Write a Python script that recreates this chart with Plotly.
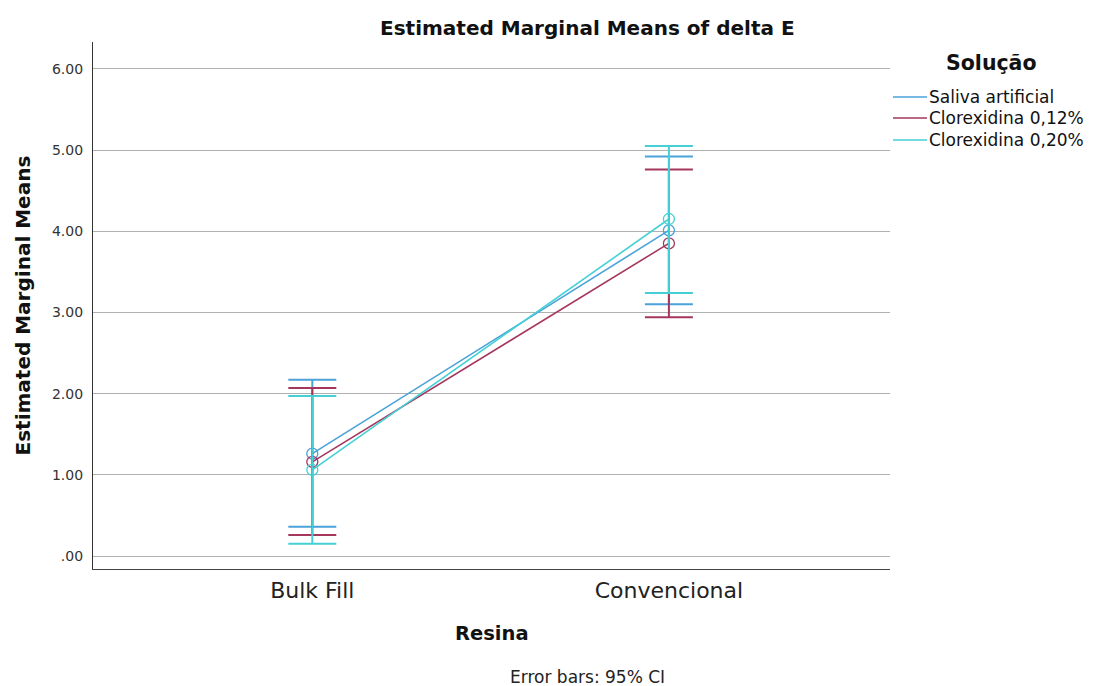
import plotly.graph_objects as go

# Estimated marginal means of delta E by resin type and solution, with 95% CI
resina = ["Bulk Fill", "Convencional"]
solucoes = ["Saliva artificial", "Clorexidina 0,12%", "Clorexidina 0,20%"]

medias = {
    "Saliva artificial": [1.26, 4.01],
    "Clorexidina 0,12%": [1.16, 3.85],
    "Clorexidina 0,20%": [1.06, 4.15],
}
ic_inferior = {
    "Saliva artificial": [0.36, 3.10],
    "Clorexidina 0,12%": [0.26, 2.94],
    "Clorexidina 0,20%": [0.15, 3.24],
}
ic_superior = {
    "Saliva artificial": [2.17, 4.92],
    "Clorexidina 0,12%": [2.07, 4.76],
    "Clorexidina 0,20%": [1.97, 5.05],
}

y_ticks = [0, 1, 2, 3, 4, 5, 6]
y_tick_labels = [".00", "1.00", "2.00", "3.00", "4.00", "5.00", "6.00"]

cores = {
    "Saliva artificial": "#4aa2d9",
    "Clorexidina 0,12%": "#a5375f",
    "Clorexidina 0,20%": "#45d0d6",
}

FONT = "DejaVu Sans"

fig = go.Figure()
for s in solucoes:
    m = medias[s]
    up = [u - v for u, v in zip(ic_superior[s], m)]
    dn = [v - l for v, l in zip(m, ic_inferior[s])]
    fig.add_trace(go.Scatter(
        x=[0, 1], y=m, name=s, mode="lines+markers", showlegend=False,
        line=dict(color=cores[s], width=1.6),
        marker=dict(symbol="circle-open", size=11, color=cores[s],
                    line=dict(width=1.3, color=cores[s])),
        error_y=dict(type="data", symmetric=False, array=up, arrayminus=dn,
                     color=cores[s], thickness=2, width=24),
    ))

# Legend panel at the right: title, line keys and labels
annotations = [
    dict(text="<b>Solução</b>", xref="paper", yref="paper",
         x=1.0, xshift=101, y=1.0, yshift=-21, xanchor="center", yanchor="middle",
         showarrow=False, font=dict(family=FONT, size=20.5, color="#111")),
]
shapes = []
key_offsets = [-55, -76, -98]
for s, dy in zip(solucoes, key_offsets):
    shapes.append(dict(
        type="line", xref="paper", yref="paper",
        xsizemode="pixel", xanchor=1.0, x0=3, x1=37,
        ysizemode="pixel", yanchor=1.0, y0=dy, y1=dy,
        line=dict(color=cores[s], width=1.6),
    ))
    annotations.append(dict(
        text=s, xref="paper", yref="paper", x=1.0, xshift=37, xanchor="left",
        y=1.0, yshift=dy, yanchor="middle", showarrow=False,
        font=dict(family=FONT, size=17, color="#111"),
    ))

annotations += [
    dict(text="<b>Estimated Marginal Means of delta E</b>", xref="paper", yref="paper",
         x=0.621, y=1.0, yshift=14, xanchor="center", yanchor="middle", showarrow=False,
         font=dict(family=FONT, size=20, color="#111")),
    dict(text="<b>Resina</b>", xref="paper", yref="paper",
         x=0.5, y=0, yshift=-64, xanchor="center", yanchor="middle", showarrow=False,
         font=dict(family=FONT, size=19.5, color="#111")),
    dict(text="Error bars: 95% CI", xref="paper", yref="paper",
         x=0.621, y=0, yshift=-108, xanchor="center", yanchor="middle", showarrow=False,
         font=dict(family=FONT, size=17, color="#222")),
    dict(text="<b>Estimated Marginal Means</b>", xref="paper", yref="paper",
         x=0, xshift=-71, y=0.5, xanchor="center", yanchor="middle", showarrow=False,
         textangle=-90, font=dict(family=FONT, size=20, color="#111")),
]

fig.update_layout(
    width=1093, height=686,
    margin=dict(l=93, r=203, t=42, b=117),
    paper_bgcolor="white", plot_bgcolor="white",
    font=dict(family=FONT, color="#222"),
    showlegend=False,
    xaxis=dict(
        range=[-0.615, 1.62],
        tickvals=[0, 1], ticktext=resina,
        tickfont=dict(family=FONT, size=22, color="#222"),
        showgrid=False, zeroline=False,
        showline=True, linecolor="#444", linewidth=1.2,
        ticks="", ticklen=0, ticklabelstandoff=1,
    ),
    yaxis=dict(
        range=[-0.16, 6.33],
        tickvals=y_ticks, ticktext=y_tick_labels,
        tickfont=dict(family=FONT, size=14, color="#333"),
        showgrid=True, gridcolor="#b0b0b0", gridwidth=1,
        zeroline=False,
        showline=True, linecolor="#333", linewidth=1.2,
        ticks="", ticklabelstandoff=6,
    ),
    shapes=shapes,
    annotations=annotations,
)

fig.write_html("out.html")
